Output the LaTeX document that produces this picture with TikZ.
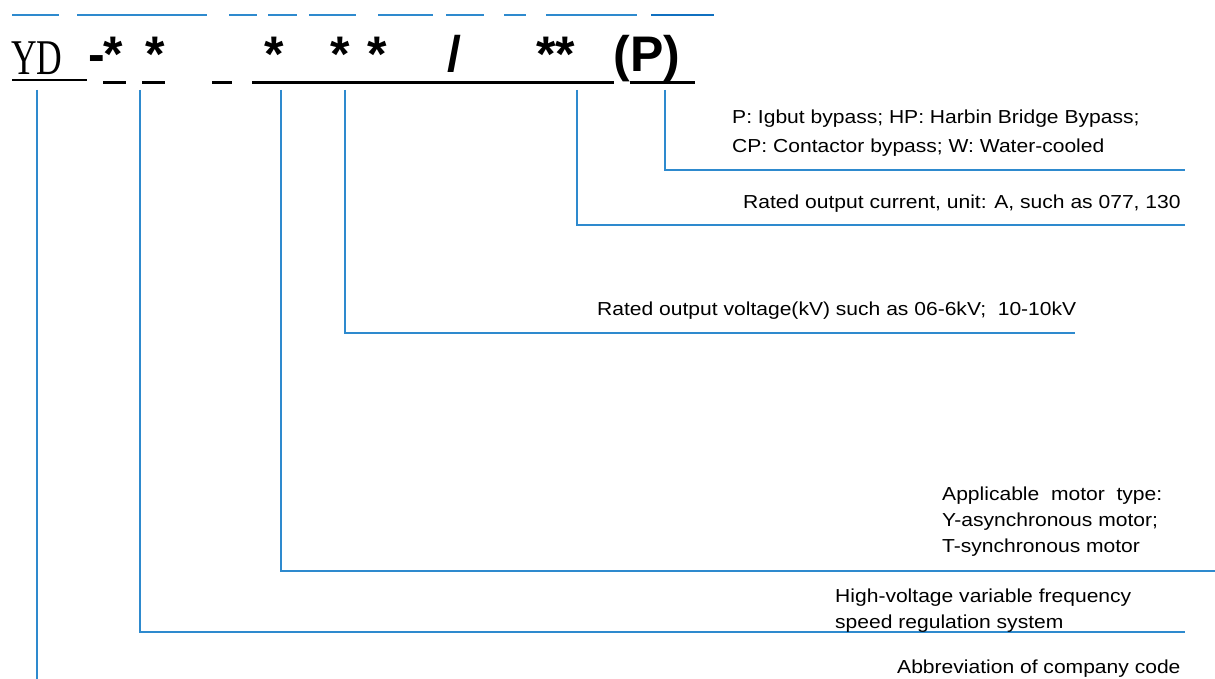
\documentclass[tikz,border=0pt]{standalone}
\usepackage{fontspec}
\usepackage{graphicx}
\setmainfont{Liberation Sans}
\newfontfamily\ydserif{Liberation Serif}
\newfontfamily\lblfont[FakeStretch=1.12]{Liberation Sans}
\definecolor{lblue}{RGB}{46,138,206}
\definecolor{dblue}{RGB}{16,112,192}
\begin{document}
\begin{tikzpicture}[x=1pt,y=-1pt,
  blueline/.style={draw=lblue,line width=1.3pt},
  topseg/.style={draw=lblue,line width=2pt},
  codechar/.style={font=\fontsize{50}{50}\selectfont\bfseries, inner sep=0pt, anchor=base},
  lbl/.style={inner sep=0pt, anchor=base west, align=left},
  uline/.style={draw=black,line width=3pt}]
\useasboundingbox (0,0) rectangle (1215,679);
% top dashed blue segments
\draw[topseg] (12,15) -- (59,15);
\draw[topseg] (77,15) -- (207,15);
\draw[topseg] (229,15) -- (257,15);
\draw[topseg] (268,15) -- (297,15);
\draw[topseg] (309,15) -- (356,15);
\draw[topseg] (378,15) -- (433,15);
\draw[topseg] (446,15) -- (484,15);
\draw[topseg] (504,15) -- (526,15);
\draw[topseg] (546,15) -- (637,15);
\draw[topseg,draw=dblue] (651,15) -- (714,15);
% code characters
\node[inner sep=0pt, anchor=base west] (yd) at (11,75) {\scalebox{0.71}[1]{\ydserif\fontsize{50}{50}\selectfont YD}};
\draw[line width=1.5pt] (12,80) -- (87,80);
\node[codechar] (dash) at (97,72) {-};
\node[codechar] (st1) at (113,72) {*};
\node[codechar] (st2) at (155,72) {*};
\node[codechar] (st3) at (274,72) {*};
\node[codechar] (st4) at (340,72) {*};
\node[codechar] (st5) at (377,72) {*};
\node[codechar] (slash) at (454,72) {/};
\node[codechar] (st6) at (556,72) {**};
\node[codechar] (pp) at (647,72) {(P)};
\draw[uline] (103,83) -- (126,83);
\draw[uline] (142,83) -- (165,83);
\draw[uline] (212,83) -- (232,83);
\draw[uline] (252,83) -- (614,83);
\draw[uline] (630,83) -- (695,83);
% connector coordinates
\coordinate (s0) at (37,90);  \coordinate (e0) at (37,679);
\coordinate (s1) at (140,90); \coordinate (e1) at (1185,632);
\coordinate (s2) at (281,90); \coordinate (e2) at (1215,571);
\coordinate (s3) at (345,90); \coordinate (e3) at (1075,333);
\coordinate (s4) at (577,90); \coordinate (e4) at (1185,225);
\coordinate (s5) at (665,90); \coordinate (e5) at (1185,170);
\draw[blueline] (s0) -- (e0);
\draw[blueline] (s1) |- (e1);
\draw[blueline] (s2) |- (e2);
\draw[blueline] (s3) |- (e3);
\draw[blueline] (s4) |- (e4);
\draw[blueline] (s5) |- (e5);
% labels (base anchor = baseline of last line)
\node[lbl, font=\lblfont\fontsize{18.8}{29}\selectfont] (t5) at (732,153) {P: Igbut bypass; HP: Harbin Bridge Bypass;\\CP: Contactor bypass; W: Water-cooled};
\node[lbl, font=\lblfont\fontsize{18.8}{26}\selectfont] (t4) at (743,208) {Rated output current, unit: A, such as 077,\ 130};
\node[lbl, font=\lblfont\fontsize{18.8}{26}\selectfont] (t3) at (597,315) {Rated output voltage(kV) such as 06-6kV;\ \ 10-10kV};
\node[lbl, font=\lblfont\fontsize{18.8}{26}\selectfont] (t2) at (942,552) {Applicable\ \ motor\ \ type:\\Y-asynchronous motor;\\T-synchronous motor};
\node[lbl, font=\lblfont\fontsize{18.8}{26}\selectfont] (t1) at (835,628) {High-voltage variable frequency\\speed regulation\ system};
\node[lbl, font=\lblfont\fontsize{18.8}{26}\selectfont] (t0) at (897,673) {Abbreviation of company code};
\end{tikzpicture}
\end{document}
